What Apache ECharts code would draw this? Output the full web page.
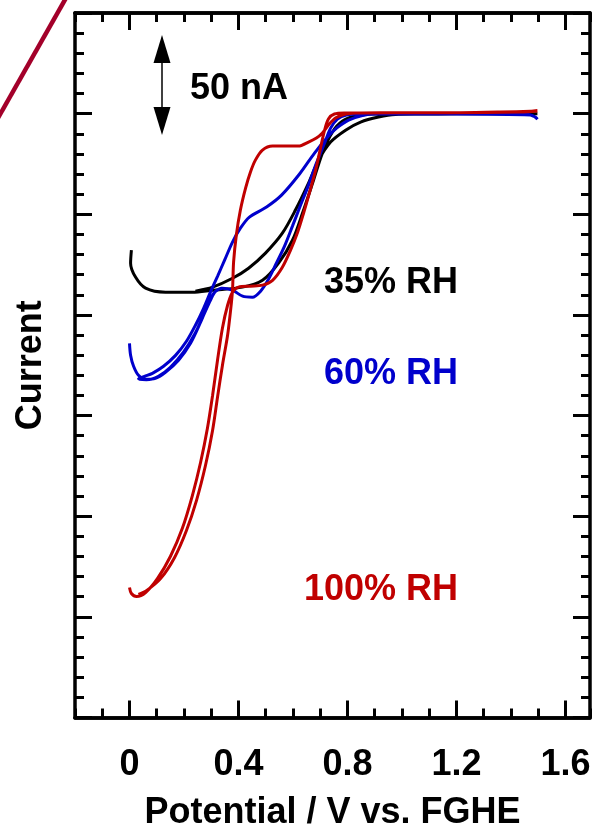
<!DOCTYPE html>
<html>
<head>
<meta charset="utf-8">
<script src="https://cdn.jsdelivr.net/npm/echarts@6.0.0/dist/echarts.min.js"></script>
<style>
  html, body { margin: 0; padding: 0; background: #fff; }
  #chart { width: 593px; height: 829px; }
</style>
</head>
<body>
<div id="chart"></div>
<script>
// ---- data (potential in V vs. FGHE, current in nA; plateau = 0) ----
const xTickValues = [0, 0.4, 0.8, 1.2, 1.6];
const seriesNames = ['35% RH', '60% RH', '100% RH'];

const e35 = [0.007,0.004,0.022,0.059,0.132,0.231,0.305,0.415,0.488,0.547,0.598,0.635,0.672,0.708,0.745,0.782,0.830,0.892,0.994,1.200,1.497,1.200,1.068,0.976,0.914,0.848,0.793,0.738,0.694,0.657,0.609,0.561,0.499,0.437,0.378,0.305,0.242];
const i35 = [-67.8,-74.3,-81.2,-86.7,-88.7,-88.7,-87.7,-86.2,-82.8,-74.3,-62.9,-49.4,-34.5,-19.6,-9.1,-3.7,-1.2,-0.2,0,0,0,-0.1,-0.2,-0.4,-1.7,-4.2,-8.2,-14.1,-23.1,-34.5,-47.9,-59.4,-69.3,-76.8,-81.8,-86.2,-88.2];

const e60 = [0.000,0.004,0.015,0.033,0.059,0.095,0.132,0.180,0.224,0.261,0.290,0.312,0.341,0.378,0.415,0.451,0.481,0.510,0.539,0.569,0.598,0.628,0.657,0.686,0.716,0.738,0.763,0.796,0.848,1.068,1.361,1.464,1.490,1.497,1.472,1.178,0.903,0.855,0.804,0.760,0.727,0.679,0.624,0.558,0.503,0.440,0.407,0.378,0.349,0.323,0.297,0.272,0.242,0.209,0.169,0.125,0.084,0.055,0.033,0.062,0.106,0.150,0.198,0.239,0.272,0.297,0.316,0.341];
const i60 = [-114.1,-120.0,-125.5,-130.0,-132.0,-131.5,-128.5,-122.5,-114.1,-103.6,-94.2,-88.7,-86.7,-87.7,-90.7,-91.2,-88.2,-82.3,-74.3,-65.8,-55.9,-45.4,-35.5,-24.6,-14.6,-7.2,-2.7,-0.7,-0.2,-0.2,-0.2,-0.4,-1.7,-2.7,-0.7,-0.2,-0.2,-0.9,-3.2,-7.2,-11.6,-19.6,-30.0,-40.5,-46.4,-51.4,-56.9,-63.8,-72.8,-80.8,-88.7,-96.7,-105.1,-113.1,-120.1,-125.5,-129.0,-130.5,-131.7,-132.2,-130.5,-126.0,-118.5,-109.6,-100.1,-92.7,-88.2,-86.7];

const e100Fwd = [0.000,0.007,0.026,0.059,0.103,0.150,0.194,0.231,0.261,0.286,0.305,0.323,0.341,0.360,0.378,0.400,0.444,0.488,0.525,0.561,0.591,0.617,0.639,0.661,0.683,0.701,0.716,0.730,0.752,0.793,0.994,1.215,1.361,1.497];
const i100Fwd = [-235.4,-238.4,-239.9,-237.9,-230.9,-220.0,-206.0,-189.6,-173.2,-156.3,-139.9,-122.5,-106.6,-95.2,-88.7,-86.2,-85.7,-85.2,-82.8,-76.3,-67.8,-58.9,-49.4,-39.0,-28.1,-17.1,-8.2,-2.7,-0.2,0.3,0.5,0.5,0.8,1.3];
const e100Rev = [1.435,1.178,0.921,0.830,0.793,0.756,0.730,0.708,0.686,0.657,0.620,0.572,0.525,0.488,0.462,0.444,0.426,0.407,0.392,0.382,0.378,0.371,0.360,0.341,0.323,0.305,0.279,0.246,0.209,0.165,0.114,0.062,0.033];
const i100Rev = [0.8,0.5,0.5,0.3,-0.2,-2.2,-5.7,-9.6,-12.1,-14.1,-16.1,-16.1,-16.1,-18.1,-23.1,-29.0,-37.0,-47.9,-60.4,-73.8,-87.8,-97.7,-110.1,-125.1,-140.9,-157.3,-174.7,-192.1,-207.1,-220.6,-231.0,-237.0,-238.9];

// ---- build ----
const FONT = '"Liberation Sans", Arial, sans-serif';
const pairs = (xs, ys) => xs.map((x, k) => [x, ys[k]]);
const e100 = e100Fwd.concat(e100Rev);
const i100 = i100Fwd.concat(i100Rev);

const chart = echarts.init(document.getElementById('chart'), null, { renderer: 'canvas' });

const axisLineStyle = { color: '#000', width: 3.5 };
const tickLineStyle = { color: '#000', width: 3 };

function majorX(pos, withLabels) {
  return {
    type: 'value', min: -0.2, max: 1.69, position: pos,
    axisLine: { show: true, onZero: false, lineStyle: axisLineStyle },
    axisTick: { show: true, inside: true, length: 17, customValues: xTickValues, lineStyle: tickLineStyle },
    axisLabel: withLabels ? {
      show: true, customValues: xTickValues, margin: 30,
      fontSize: 36, fontWeight: 'bold', color: '#000', fontFamily: FONT,
      formatter: v => (Math.abs(v) < 1e-9 ? '0' : Number(v).toFixed(1))
    } : { show: false },
    splitLine: { show: false },
    name: withLabels ? 'Potential / V vs. FGHE' : '',
    nameLocation: 'middle', nameGap: 78,
    nameTextStyle: { fontSize: 36, fontWeight: 'bold', color: '#000', fontFamily: FONT }
  };
}
function minorX(pos) {
  return {
    type: 'value', min: -0.2, max: 1.69, interval: 0.1, position: pos,
    axisLine: { show: true, onZero: false, lineStyle: axisLineStyle },
    axisTick: { show: true, inside: true, length: 9, lineStyle: tickLineStyle },
    axisLabel: { show: false }, splitLine: { show: false }
  };
}
function yAx(pos, withName) {
  return {
    type: 'value', min: -300, max: 50, interval: 50, position: pos,
    axisLine: { show: true, onZero: false, lineStyle: axisLineStyle },
    axisTick: { show: true, inside: true, length: 17, lineStyle: tickLineStyle },
    minorTick: { show: true, splitNumber: 5, length: 9, lineStyle: tickLineStyle },
    axisLabel: { show: false }, splitLine: { show: false }, minorSplitLine: { show: false },
    name: withName ? 'Current' : '', nameLocation: 'middle', nameRotate: 90, nameGap: 26,
    nameTextStyle: { fontSize: 36, fontWeight: 'bold', color: '#000', fontFamily: FONT }
  };
}

function curve(name, xs, ys, color) {
  return {
    name, type: 'line', xAxisIndex: 0, yAxisIndex: 0,
    data: pairs(xs, ys), showSymbol: false, symbol: 'none', smooth: 0.3,
    lineStyle: { color, width: 3 }, itemStyle: { color }, z: 3
  };
}

const labelFont = 'bold 36px ' + FONT;
chart.setOption({
  animation: false,
  backgroundColor: '#fff',
  grid: { left: 75, right: 3, top: 13, bottom: 111.5, containLabel: false, outerBoundsMode: 'none' },
  xAxis: [majorX('bottom', true), minorX('bottom'), majorX('top', false), minorX('top')],
  yAxis: [yAx('left', true), yAx('right', false)],
  series: [
    curve(seriesNames[0], e35, i35, '#000000'),
    curve(seriesNames[1], e60, i60, '#0000cc'),
    curve(seriesNames[2], e100, i100, '#c00000')
  ],
  graphic: [
    { type: 'line', shape: { x1: -2, y1: 118, x2: 66, y2: -2 }, style: { stroke: '#a3002a', lineWidth: 4.5 } },
    { type: 'line', shape: { x1: 162, y1: 55, x2: 162, y2: 115 }, style: { stroke: '#000', lineWidth: 1.5 } },
    { type: 'polygon', shape: { points: [[162, 35], [153.5, 63], [170.5, 63]] }, style: { fill: '#000' } },
    { type: 'polygon', shape: { points: [[162, 135], [153.5, 107], [170.5, 107]] }, style: { fill: '#000' } },
    { type: 'text', x: 190, y: 89, style: { text: '50 nA', font: labelFont, fill: '#000', textVerticalAlign: 'middle', verticalAlign: 'middle' } },
    { type: 'text', x: 458, y: 283, style: { text: seriesNames[0], font: labelFont, fill: '#000', align: 'right', textAlign: 'right', verticalAlign: 'middle', textVerticalAlign: 'middle' } },
    { type: 'text', x: 458, y: 374, style: { text: seriesNames[1], font: labelFont, fill: '#0000cc', align: 'right', textAlign: 'right', verticalAlign: 'middle', textVerticalAlign: 'middle' } },
    { type: 'text', x: 458, y: 590, style: { text: seriesNames[2], font: labelFont, fill: '#c00000', align: 'right', textAlign: 'right', verticalAlign: 'middle', textVerticalAlign: 'middle' } }
  ]
});
</script>
</body>
</html>
